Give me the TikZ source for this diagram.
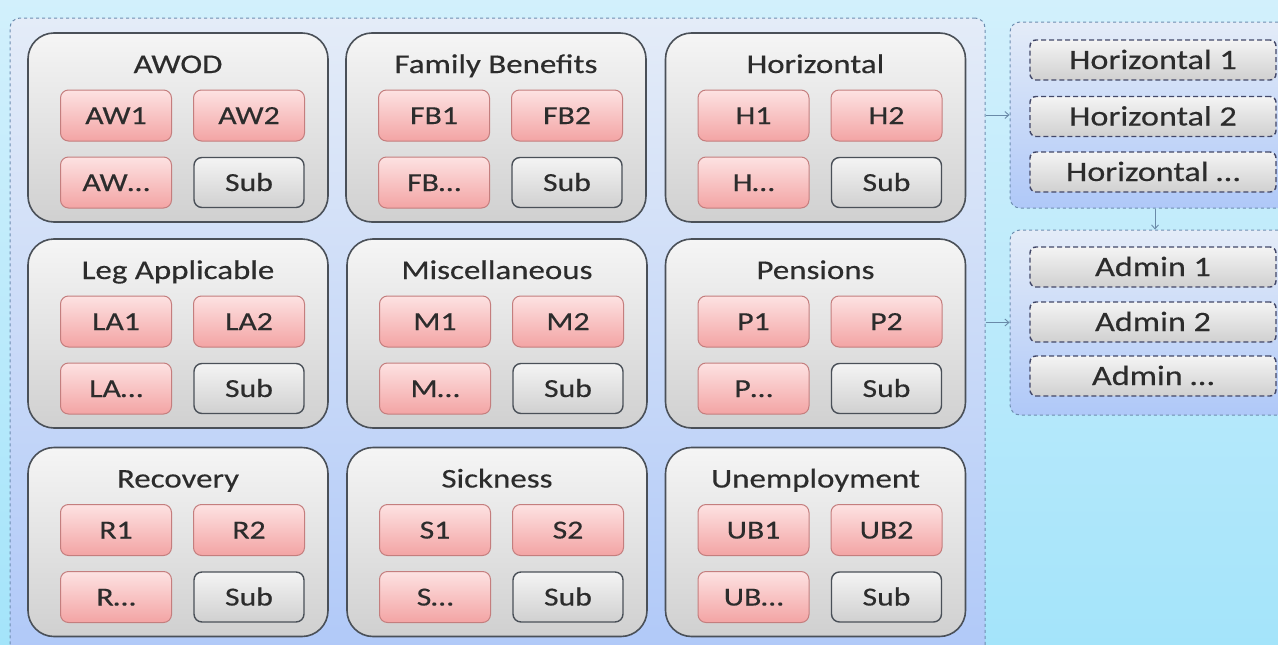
\documentclass[tikz,border=0pt]{standalone}
\usepackage{fontspec}
\setmainfont[FakeStretch=1.22,FakeBold=0.4]{Carlito}
\usetikzlibrary{arrows.meta}
\definecolor{bgtop}{HTML}{D2F0FC}
\definecolor{bgbot}{HTML}{A4E4FA}
\definecolor{cttop}{HTML}{E4ECF8}
\definecolor{ctbot}{HTML}{AFC8F8}
\definecolor{ctline}{HTML}{6E8EB0}
\definecolor{grline}{HTML}{4A5058}
\definecolor{pktop}{HTML}{FDE2E2}
\definecolor{pkbot}{HTML}{F3A4A4}
\definecolor{pkline}{HTML}{C47E7E}
\definecolor{gytop}{HTML}{F4F4F4}
\definecolor{gybot}{HTML}{D0D0D0}
\definecolor{txt}{HTML}{2C2C2C}
\definecolor{arr}{HTML}{6A8AA8}
\tikzset{
  cont/.style={draw=ctline, line width=1pt, dash pattern=on 3pt off 3pt, rounded corners=10pt,
    top color=cttop, bottom color=ctbot, inner sep=0pt},
  grp/.style={draw=grline, line width=1.6pt, rounded corners=26pt, top color=gytop!90!white, bottom color=gybot,
    minimum width=300pt, minimum height=189pt, inner sep=0pt},
  ttl/.style={text=txt, font=\fontsize{27}{30}\selectfont, inner sep=0pt, text height=17pt, text depth=0pt},
  pk/.style={draw=pkline, line width=1pt, rounded corners=8pt, top color=pktop, bottom color=pkbot,
    minimum width=111pt, minimum height=51pt, inner sep=0pt, text=txt, font=\fontsize{26}{30}\selectfont,
    text height=17pt, text depth=0pt},
  sb/.style={draw=grline, line width=1.4pt, rounded corners=8pt, top color=gytop, bottom color=gybot,
    minimum width=110pt, minimum height=50pt, inner sep=0pt, text=txt, font=\fontsize{26}{30}\selectfont,
    text height=17pt, text depth=0pt},
  item/.style={draw=grline!90!blue, line width=1.4pt, dash pattern=on 5pt off 3pt, rounded corners=6pt,
    top color=gytop, bottom color=gybot, minimum width=246pt, minimum height=40pt, inner sep=0pt,
    text=txt, font=\fontsize{28}{30}\selectfont, text height=18pt, text depth=0pt},
  link/.style={draw=arr, line width=0.9pt, -{Straight Barb[length=4pt,width=7pt]}}
}
\newcommand\mygroup[6]{%
  \node[grp] (#1) at (#2,#3) {};
  \node[ttl] (#1t) at (#2,#3-63) {#4};
  \node[pk] (#1a) at (#2-62,#3-12) {#51};
  \node[pk] (#1b) at (#2+71,#3-12) {#52};
  \node[pk] (#1c) at (#2-62,#3+55) {#5…};
  \node[sb] (#1d) at (#2+71,#3+55) {Sub};
}
\begin{document}
\begin{tikzpicture}[x=1pt,y=-1pt]
\clip (0,0) rectangle (1278,645);
\fill[top color=bgtop, bottom color=bgbot] (0,0) rectangle (1278,645);
% containers
\node[cont, minimum width=975pt, minimum height=652pt] (main) at (497.5,344) {};
\node[cont, minimum width=290pt, minimum height=186pt] (hc) at (1155,115) {};
\node[cont, minimum width=290pt, minimum height=185pt] (ac) at (1155,322.5) {};
% groups
\mygroup{gA}{178}{127.5}{AWOD}{AW}{}
\mygroup{gB}{496}{127.5}{Family Benefits}{FB}{}
\mygroup{gC}{815.5}{127.5}{Horizontal}{H}{}
\mygroup{gD}{178}{333.5}{Leg Applicable}{LA}{}
\mygroup{gE}{497}{333.5}{Miscellaneous}{M}{}
\mygroup{gF}{815.5}{333.5}{Pensions}{P}{}
\mygroup{gG}{178}{542}{Recovery}{R}{}
\mygroup{gH}{497}{542}{Sickness}{S}{}
\mygroup{gI}{815.5}{542}{Unemployment}{UB}{}
% right items
\node[item] (h1) at (1153,60) {Horizontal 1};
\node[item] (h2) at (1153,116.5) {Horizontal 2};
\node[item] (h3) at (1153,172) {Horizontal …};
\node[item] (a1) at (1153,267) {Admin 1};
\node[item] (a2) at (1153,322) {Admin 2};
\node[item] (a3) at (1153,376) {Admin …};
% connectors
\draw[link] (hc.west -| main.east) -- (hc.west);
\draw[link] (ac.west -| main.east) -- (ac.west);
\draw[link] (hc.south) -- (ac.north);
\end{tikzpicture}
\end{document}
